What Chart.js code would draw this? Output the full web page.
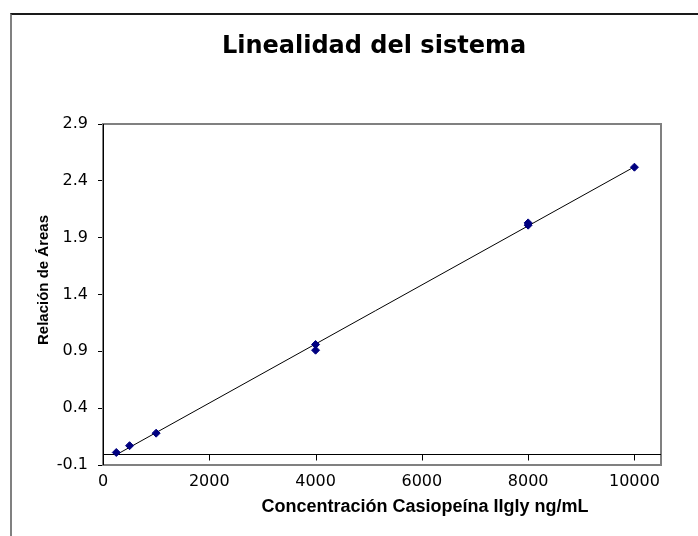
<!DOCTYPE html>
<html>
<head>
<meta charset="utf-8">
<script src="https://cdn.jsdelivr.net/npm/chart.js@4/dist/chart.umd.min.js"></script>
<style>
    html, body { margin: 0; padding: 0; background: #fff; overflow: hidden; }
    #frame {
        position: absolute; left: 10px; top: 13px; width: 760px; height: 600px;
        border-top: 2px solid #1a1a1a; border-left: 2px solid #808080;
    }
    #wrap { position: absolute; left: 0; top: 0; width: 698px; height: 536px; }
</style>
</head>
<body>
<div id="frame"></div>
<div id="wrap"><canvas id="Linealidad" width="698" height="536"></canvas></div>
<script>
// concentración (ng/mL) y relación de áreas de cada inyección
let concentraciones = [250, 500, 1000, 4000, 4000, 8000, 8000, 10000];
let relaciones = [0.01, 0.07, 0.18, 0.96, 0.91, 2.01, 2.03, 2.52];

let x_ticks = [0, 2000, 4000, 6000, 8000, 10000];
let y_ticks = [-0.1, 0.4, 0.9, 1.4, 1.9, 2.4, 2.9];

let puntos = [];
for (let i = 0; i < concentraciones.length; i++) {
    puntos.push({x: concentraciones[i], y: relaciones[i]})
}

// recta de mínimos cuadrados
let n = puntos.length;
let sx = 0, sy = 0, sxx = 0, sxy = 0;
for (const p of puntos) {
    sx += p.x; sy += p.y; sxx += p.x * p.x; sxy += p.x * p.y;
}
let pendiente = (n * sxy - sx * sy) / (n * sxx - sx * sx);
let ordenada = (sy - pendiente * sx) / n;
let xmin = Math.min(...concentraciones);
let xmax = Math.max(...concentraciones);
let tendencia = [
    {x: xmin, y: ordenada + pendiente * xmin},
    {x: xmax, y: ordenada + pendiente * xmax}
];

const textos = {
    id: 'textos',
    beforeDatasetsDraw(chart) {
        const {ctx, chartArea: a, scales: {x, y}} = chart;
        ctx.save();
        // marco del área de trazado
        ctx.strokeStyle = '#808080';
        ctx.lineWidth = 2;
        ctx.strokeRect(a.left, a.top, a.right - a.left, a.bottom - a.top);
        // eje horizontal en y = 0 con sus marcas
        const y0 = Math.round(y.getPixelForValue(0)) + 0.5;
        ctx.strokeStyle = '#000';
        ctx.lineWidth = 1;
        ctx.beginPath();
        ctx.moveTo(a.left, y0);
        ctx.lineTo(a.right, y0);
        for (const v of x_ticks) {
            const px = Math.round(x.getPixelForValue(v)) + 0.5;
            ctx.moveTo(px, y0);
            ctx.lineTo(px, y0 + 6);
        }
        ctx.stroke();
        // eje vertical
        ctx.beginPath();
        ctx.moveTo(a.left + 0.5, a.top);
        ctx.lineTo(a.left + 0.5, a.bottom);
        ctx.stroke();
        ctx.restore();
    },
    afterDraw(chart) {
        const {ctx} = chart;
        ctx.save();
        ctx.fillStyle = '#000';
        ctx.textAlign = 'center';
        ctx.textBaseline = 'middle';
        ctx.font = 'bold 24px "DejaVu Sans"';
        ctx.fillText('Linealidad del sistema', 374, 47);
        ctx.font = 'bold 18px "Liberation Sans"';
        ctx.fillText('Concentración Casiopeína IIgly ng/mL', 425, 507);
        ctx.translate(44, 280);
        ctx.rotate(-Math.PI / 2);
        ctx.font = 'bold 15px "Liberation Sans"';
        ctx.fillText('Relación de Áreas', 0, 0);
        ctx.restore();
    }
};

new Chart(
    document.getElementById('Linealidad'),
    {
        type: 'scatter',
        data: {
            datasets: [
                {
                    label: 'Relación de Áreas',
                    data: puntos,
                    pointStyle: 'rectRot',
                    pointRadius: 4,
                    backgroundColor: '#000080',
                    borderColor: '#000080',
                    borderWidth: 1,
                    order: 0,
                },
                {
                    type: 'line',
                    label: 'Lineal',
                    data: tendencia,
                    borderColor: '#000',
                    borderWidth: 1,
                    pointRadius: 0,
                    fill: false,
                    order: 1,
                }
            ]
        },
        options: {
            responsive: false,
            animation: false,
            layout: {
                padding: {left: 0, top: 124, right: 37, bottom: 41}
            },
            plugins: {
                legend: {display: false},
                tooltip: {enabled: false}
            },
            scales: {
                x: {
                    type: 'linear',
                    min: 0,
                    max: 10500,
                    afterBuildTicks: (axis) => {
                        axis.ticks = x_ticks.map(v => ({value: v}));
                    },
                    afterFit: (axis) => { axis.height = 30; },
                    grid: {display: false, drawTicks: false},
                    border: {display: false},
                    ticks: {
                        color: '#000',
                        padding: 7,
                        maxRotation: 0,
                        font: {family: 'DejaVu Sans', size: 16},
                        callback: (value) => String(value)
                    }
                },
                y: {
                    min: -0.1,
                    max: 2.9,
                    afterBuildTicks: (axis) => {
                        axis.ticks = y_ticks.map(v => ({value: v}));
                    },
                    afterFit: (axis) => { axis.width = 103; },
                    grid: {
                        display: true,
                        drawOnChartArea: false,
                        drawTicks: true,
                        tickLength: 5,
                        color: '#000',
                    },
                    border: {display: false},
                    ticks: {
                        color: '#000',
                        padding: 10,
                        font: {family: 'DejaVu Sans', size: 16},
                        callback: (value) => value.toFixed(1)
                    }
                }
            }
        },
        plugins: [textos]
    }
);
</script>
</body>
</html>
